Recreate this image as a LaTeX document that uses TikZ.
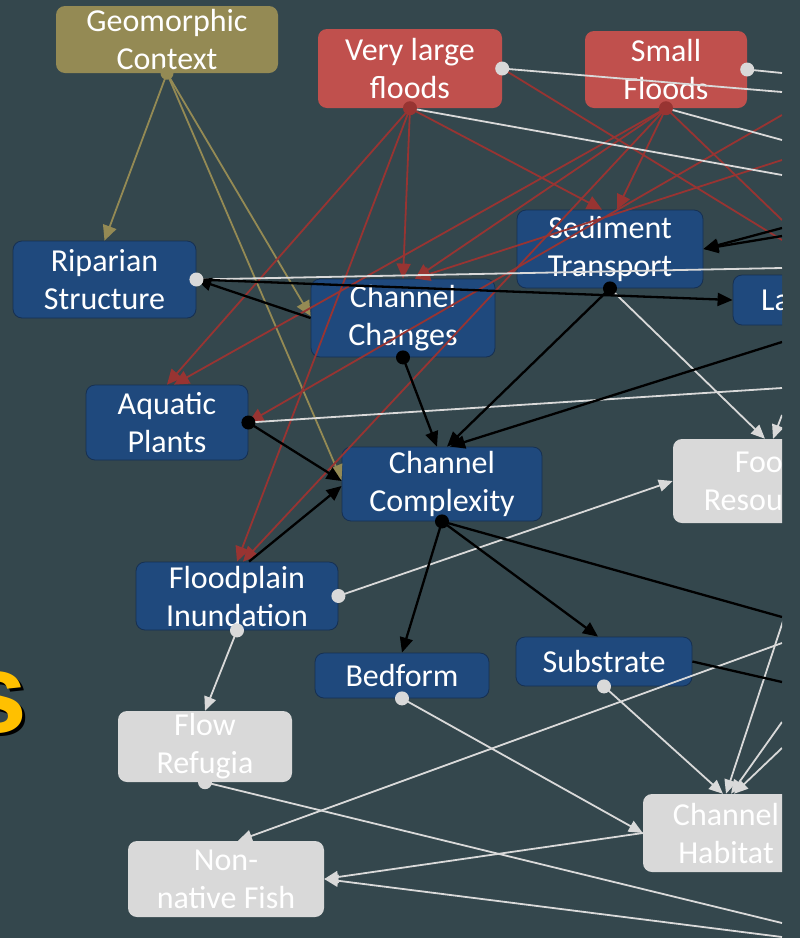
\documentclass[tikz,border=0pt]{standalone}
\usepackage{fontspec}
\setmainfont{Carlito}
\newfontfamily\headfont{Liberation Sans}
\usetikzlibrary{arrows.meta}

\definecolor{slate}{RGB}{52,71,77}
\definecolor{navy}{RGB}{31,73,125}
\definecolor{navyedge}{RGB}{22,48,82}
\definecolor{brick}{RGB}{192,80,77}
\definecolor{khaki}{RGB}{148,138,84}
\definecolor{pale}{RGB}{217,217,217}
\definecolor{rust}{RGB}{152,52,50}
\definecolor{gold}{RGB}{255,192,0}

\tikzset{
  box/.style={rounded corners=9pt, inner sep=0pt, align=center, text=white,
    font=\fontsize{32}{38}\selectfont},
  navybox/.style={box, fill=navy, draw=navyedge, line width=0.8pt},
  floodbox/.style={box, fill=brick},
  contextbox/.style={box, fill=khaki},
  palebox/.style={box, fill=pale},
  lbl/.style={inner sep=0pt, text=white, font=\fontsize{32}{38}\selectfont},
  link/.style={line width=1.8pt},
  redline/.style={link, draw=rust},
  redlink/.style={redline, -{Triangle[length=15pt,width=14pt]}},
  oliveline/.style={link, draw=khaki},
  olivelink/.style={oliveline, -{Triangle[length=15pt,width=14pt]}},
  paleline/.style={link, draw=pale},
  palelink/.style={paleline, -{Triangle[length=14pt,width=12pt]}},
  blackline/.style={line width=2.3pt, draw=black},
  blacklink/.style={blackline, -{Triangle[length=15pt,width=13pt]}},
}

\begin{document}
\begin{tikzpicture}[x=1pt,y=-1pt]
\fill[slate] (0,0) rectangle (800,938);
\useasboundingbox (0,0) rectangle (800,938);

\begin{scope}
\clip (0,0) rectangle (782,938);

% tail of the slide title
\node[anchor=base west, inner sep=0pt, text=black,
  font=\headfont\bfseries\fontsize{113}{113}\selectfont] (titleshade) at (-33,735) {s};
\node[anchor=base west, inner sep=0pt, text=gold,
  font=\headfont\bfseries\fontsize{113}{113}\selectfont] (titletail) at (-36,732) {s};

% ---------- nodes ----------
\node[contextbox, minimum width=222, minimum height=67] (geo) at (167,39.5) {Geomorphic\\Context};
\node[floodbox, minimum width=184, minimum height=79] (vlf) at (410,68.5) {Very large\\floods};
\node[floodbox, minimum width=162, minimum height=77] (sf) at (666,69.5) {Small\\Floods};

\node[navybox, minimum width=186, minimum height=78] (st) at (610,249) {Sediment\\Transport};
\node[navybox, minimum width=134, minimum height=50] (lw) at (800,300) {};
\node[lbl, anchor=west] (lwtext) at (761,300) {La};
\node[navybox, minimum width=183, minimum height=77] (rs) at (104.5,279.5) {Riparian\\Structure};
\node[navybox, minimum width=184, minimum height=78] (cc) at (403,318) {Channel\\Changes};
\node[navybox, minimum width=162, minimum height=75] (ap) at (167,422.5) {Aquatic\\Plants};
\node[navybox, minimum width=200, minimum height=74] (ccx) at (442,484) {Channel\\Complexity};
\node[navybox, minimum width=202, minimum height=68] (fi) at (237,596) {Floodplain\\Inundation};
\node[navybox, minimum width=174, minimum height=45] (bf) at (402,675.5) {Bedform};
\node[navybox, minimum width=176, minimum height=49] (su) at (604,661.5) {Substrate};

\node[palebox, minimum width=188, minimum height=84] (fr) at (767,481) {};
\node[lbl, anchor=east, align=right] (frtext) at (783,481) {Foo\\Resou};
\node[palebox, minimum width=174, minimum height=71] (fref) at (205,746.5) {Flow\\Refugia};
\node[palebox, minimum width=196, minimum height=76] (nnf) at (226,879) {Non-\\native Fish};
\node[palebox, minimum width=166, minimum height=78] (ch) at (726,833) {Channel\\Habitat};

% ---------- free ends of links leaving the frame ----------
\coordinate (rA) at (782,115);
\coordinate (rB) at (782,160);
\coordinate (rC) at (782,220);
\coordinate (rD) at (782,240);
\coordinate (wA) at (782,73);
\coordinate (wB) at (782,92);
\coordinate (wC) at (782,140);
\coordinate (wD) at (782,175);
\coordinate (wE) at (782,268);
\coordinate (wF) at (782,388);
\coordinate (wG) at (782,415);
\coordinate (wH) at (786,612);
\coordinate (wI) at (782,643);
\coordinate (wJ) at (782,722);
\coordinate (wK) at (782,748);
\coordinate (wL) at (782,923);
\coordinate (wM) at (782,937);
\coordinate (bA) at (782,228);
\coordinate (bB) at (782,236);
\coordinate (bC) at (782,342);
\coordinate (bD) at (782,617);
\coordinate (bE) at (782,682);

% ---------- geomorphic context links ----------
\draw[olivelink] (geo.south) -- (rs.north);
\draw[olivelink] (geo.south) -- ([yshift=2pt]cc.west);
\draw[olivelink] (geo.south) -- ([yshift=4pt]ccx.west);

% ---------- flood links ----------
\draw[redlink] (vlf.south) -- (cc.north);
\draw[redlink] (vlf.south) -- ([xshift=-8pt]st.north);
\draw[redlink] (vlf.south) -- (ap.north);
\draw[redlink] (vlf.south) -- (fi.north);
\draw[redline] (vlf.east) -- (rD);
\draw[redlink] (sf.south) -- ([xshift=7pt]st.north);
\draw[redlink] (sf.south) -- ([xshift=12pt]cc.north);
\draw[redlink] (sf.south) -- ([xshift=7pt]ap.north);
\draw[redlink] (sf.south) -- ([xshift=6pt]fi.north);
\draw[redline] (sf.south) -- (rC);
\draw[redlink] (rA) -- (ap.east);
\draw[redlink] (rB) -- ([xshift=12pt]cc.north);

% ---------- pale links ----------
\draw[paleline] (vlf.east) -- (wB);
\draw[paleline] (sf.east) -- (wA);
\draw[paleline] (vlf.south) -- (wD);
\draw[paleline] (sf.south) -- (wC);
\draw[paleline] (rs.east) -- (wE);
\draw[paleline] (ap.east) -- (wF);
\draw[palelink] (st.south) -- ([xshift=-2pt]fr.north);
\draw[palelink] (wG) -- ([xshift=6pt]fr.north);
\draw[palelink] (fi.east) -- (fr.west);
\draw[palelink] (fi.south) -- (fref.north);
\draw[palelink] (bf.south) -- (ch.west);
\draw[palelink] (su.south) -- ([xshift=-3pt]ch.north);
\draw[palelink] (wH) -- (ch.north);
\draw[palelink] (wJ) -- ([xshift=5pt]ch.north);
\draw[palelink] (wK) -- ([xshift=8pt]ch.north);
\draw[palelink] (wI) -- ([xshift=12pt]nnf.north);
\draw[palelink] (ch.west) -- (nnf.east);
\draw[palelink] (wM) -- (nnf.east);
\draw[paleline] (fref.south) -- (wL);

% ---------- black links ----------
\draw[blacklink] (cc.west) -- (rs.east);
\draw[blacklink] (rs.east) -- (lw.west);
\draw[blacklink] (cc.south) -- ([xshift=-5pt]ccx.north);
\draw[blacklink] (st.south) -- ([xshift=5pt]ccx.north);
\draw[blacklink] (bC) -- ([xshift=8pt]ccx.north);
\draw[blacklink] (bA) -- (st.east);
\draw[blacklink] (bB) -- (st.east);
\draw[blacklink] (ap.east) -- ([yshift=3pt]ccx.west);
\draw[blacklink] ([xshift=12pt]fi.north) -- ([yshift=-2pt]ccx.west);
\draw[blacklink] (ccx.south) -- (bf.north);
\draw[blacklink] (ccx.south) -- ([xshift=-6pt]su.north);
\draw[blackline] (ccx.south) -- (bD);
\draw[blackline] (su.east) -- (bE);

% ---------- source dots ----------
\fill[khaki] (geo.south) circle (6.5pt);
\fill[rust] (vlf.south) circle (7pt);
\fill[rust] (sf.south) circle (7pt);
\foreach \p in {vlf.east, sf.east, rs.east, fi.east, fi.south, bf.south, su.south, fref.south}
  \fill[pale] (\p) circle (7pt);
\foreach \p in {cc.south, st.south, ap.east, ccx.south}
  \fill[black] (\p) circle (7pt);
\end{scope}
\end{tikzpicture}
\end{document}
